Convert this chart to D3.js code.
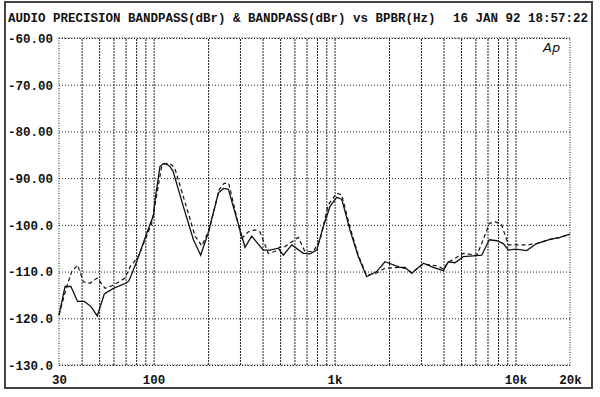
<!DOCTYPE html>
<html>
<head>
<meta charset="utf-8">
<script src="https://cdn.jsdelivr.net/npm/d3@7"></script>
<style>
  body { margin: 0; background: #fff; }
  text { font-family: "Liberation Mono", "DejaVu Sans Mono", monospace; font-weight: bold; fill: #111; }
</style>
</head>
<body>
<div id="chart"></div>
<script>
// tick labels
const yTicks = [-60, -70, -80, -90, -100, -110, -120, -130];
const yTickText = ["-60.00", "-70.00", "-80.00", "-90.00", "-100.0", "-110.0", "-120.0", "-130.0"];
const xTicks = [30, 100, 1000, 10000, 20000];
const xTickText = ["30", "100", "1k", "10k", "20k"];
const xGrid = [40, 50, 60, 70, 80, 90, 100, 200, 300, 400, 500, 600, 700, 800, 900,
               1000, 2000, 3000, 4000, 5000, 6000, 7000, 8000, 9000, 10000];

// solid trace
const solidHz = [30, 32.4, 34.9, 38, 41.4, 45.1, 48.8, 53.4, 59.9, 70.1, 73, 80.6, 91.6, 100,
  101.8, 108.4, 113, 118, 123, 128, 146, 166, 182, 200, 228, 243, 259, 300, 320, 348, 404, 440, 488,
  521, 580, 672, 731, 797, 866, 943, 1027, 1095, 1217, 1352, 1504, 1709, 1900, 2299, 2451,
  2667, 3093, 3513, 3988, 4252, 4630, 5146, 5602, 6503, 7164, 7870, 8559, 9123, 10000,
  11527, 13093, 15507, 17610, 20000];
const solidDb = [-119.3, -113.2, -113.2, -116.4, -116.4, -117.5, -119.5, -114.8, -113.6, -112.5, -112.0, -107.9, -101.8, -97.9,
  -94.7, -87.5, -86.9, -87.0, -87.5, -88.5, -96.1, -103.2, -106.5, -101.8, -93.2, -92.2, -92.4, -101.1, -104.8, -102.4, -105.4, -105.4, -105.0,
  -106.5, -104.3, -106.1, -106.2, -105.4, -100.4, -96.1, -94.1, -94.5, -101.1, -106.8, -111.1, -110.0, -107.9, -109.1, -109.1,
  -110.4, -108.2, -109.1, -109.8, -107.9, -108.1, -106.8, -106.7, -106.5, -103.2, -103.4, -104.0, -105.4, -105.2,
  -105.5, -104.0, -103.1, -102.7, -102.0];

// dashed trace
const dashHz = [30, 33.1, 35.3, 38, 40.9, 44.5, 48.8, 53.9, 59.9, 69.5, 74, 82.3, 97.6, 110.8,
  115, 120.5, 126, 131, 150, 170, 185, 203, 230, 245, 260, 306.7, 333.7, 363, 387, 430, 469, 500, 530,
  630, 686, 763, 831, 923, 1027, 1095, 1217, 1352, 1504, 1709, 1900, 2299, 2451, 2667, 3093,
  3742, 3988, 4252, 5146, 6101, 6503, 7164, 7700, 8385, 9123, 11527, 13093, 15507, 17610, 20000];
const dashDb = [-119.3, -113.2, -110.0, -108.6, -112.2, -112.5, -111.4, -113.6, -112.9, -111.4, -109.0, -106.8, -99.7, -87.5,
  -86.9, -86.8, -87.2, -87.9, -95.5, -102.5, -104.5, -101.0, -92.5, -91.1, -91.1, -102.9, -101.5, -101.1, -101.5, -106.1, -105.7, -104.7, -104.7,
  -102.7, -105.7, -105.7, -103.2, -95.7, -93.2, -93.6, -100.5, -106.5, -110.8, -110.3, -109.3, -109.1, -109.3, -110.2, -108.4,
  -108.8, -109.5, -108.0, -106.1, -106.5, -104.0, -99.7, -99.3, -100.0, -104.3, -104.3, -104.0, -103.1, -102.7, -102.0];

const w = 600, h = 397;
const padL = 59, padR = 570, padT = 38, padB = 365;

const svg = d3.select("#chart").append("svg")
  .attr("width", w).attr("height", h);

// outer frame
svg.append("rect")
  .attr("x", 5).attr("y", 2).attr("width", 587).attr("height", 386)
  .attr("fill", "none").attr("stroke", "#444").attr("stroke-width", 2);

const x = d3.scaleLog().domain([30, 20000]).range([padL, padR]);
const y = d3.scaleLinear().domain([-130, -60]).range([padB, padT]);

// grid
svg.append("g")
  .attr("transform", "translate(0," + padB + ")")
  .call(d3.axisBottom(x).tickValues(xGrid).tickSize(-(padB - padT)).tickFormat(""))
  .call(g => g.select(".domain").remove())
  .selectAll("line")
  .attr("stroke", "#222").attr("stroke-width", 1).attr("stroke-dasharray", "2,1");

svg.append("g")
  .attr("transform", "translate(" + padL + ",0)")
  .call(d3.axisLeft(y).tickValues(yTicks).tickSize(-(padR - padL)).tickFormat(""))
  .call(g => g.select(".domain").remove())
  .selectAll("line")
  .attr("stroke", "#222").attr("stroke-width", 1).attr("stroke-dasharray", "1,2");

// plot border (dotted)
svg.append("rect")
  .attr("x", padL).attr("y", padT).attr("width", padR - padL).attr("height", padB - padT)
  .attr("fill", "none").attr("stroke", "#222").attr("stroke-dasharray", "1,1.5");

// y labels
const yAxis = svg.append("g")
  .attr("transform", "translate(" + (padL - 6) + ",0)")
  .call(d3.axisLeft(y).tickValues(yTicks).tickSize(0).tickFormat((d, i) => yTickText[i]));
yAxis.select(".domain").remove();
yAxis.selectAll("text").attr("x", 0).attr("dy", "0.35em")
  .style("font-size", "12.5px").style("font-family", "Liberation Mono, monospace").style("font-weight", "bold").attr("fill", "#111");

// x labels
const xAxis = svg.append("g")
  .attr("transform", "translate(0," + padB + ")")
  .call(d3.axisBottom(x).tickValues(xTicks).tickSize(0).tickFormat((d, i) => xTickText[i]));
xAxis.select(".domain").remove();
xAxis.selectAll("text").attr("y", 0).attr("dy", "19px")
  .style("font-size", "12.5px").style("font-family", "Liberation Mono, monospace").style("font-weight", "bold").attr("fill", "#111");

// title
svg.append("text").attr("x", 8).attr("y", 22).style("font-size", "12.5px")
  .text("AUDIO PRECISION BANDPASS(dBr) & BANDPASS(dBr) vs BPBR(Hz)");
svg.append("text").attr("x", 588).attr("y", 22).attr("text-anchor", "end").style("font-size", "12.5px")
  .text("16 JAN 92 18:57:22");

// Ap logo
svg.append("text").attr("x", 543).attr("y", 52)
  .style("font-family", "DejaVu Sans, sans-serif").style("font-weight", "normal")
  .style("font-style", "italic").style("font-size", "13px").text("Ap");

const line = d3.line().x(d => x(d[0])).y(d => y(d[1]));

svg.append("path")
  .datum(dashHz.map((f, i) => [f, dashDb[i]]))
  .attr("d", line).attr("fill", "none").attr("stroke", "#111")
  .attr("stroke-width", 1.2).attr("stroke-dasharray", "4,3");

svg.append("path")
  .datum(solidHz.map((f, i) => [f, solidDb[i]]))
  .attr("d", line).attr("fill", "none").attr("stroke", "#111")
  .attr("stroke-width", 1.3);
</script>
</body>
</html>
